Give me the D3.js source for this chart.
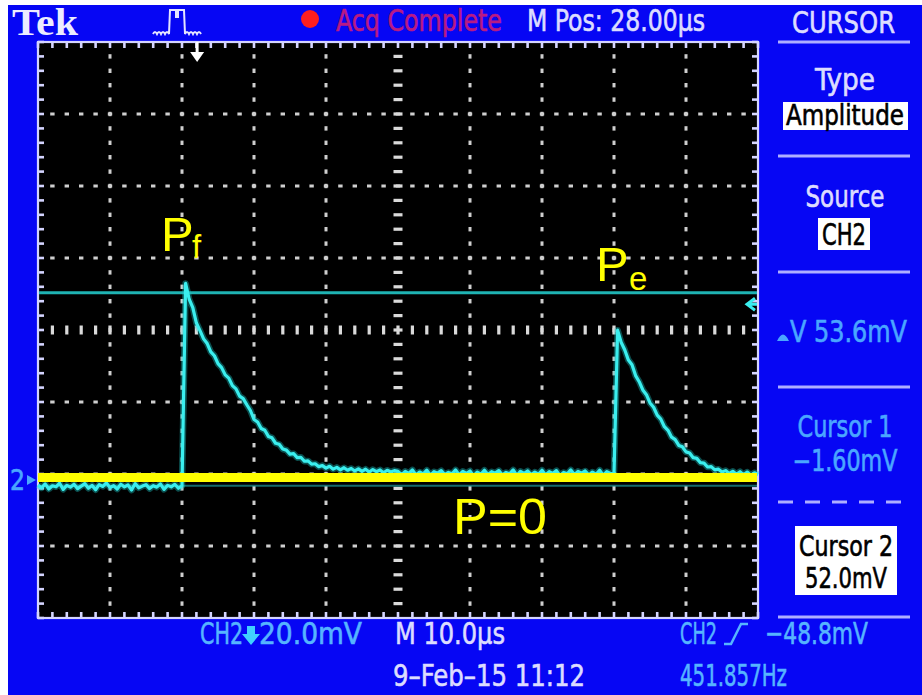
<!DOCTYPE html>
<html>
<head>
<meta charset="utf-8">
<script src="https://cdn.jsdelivr.net/npm/d3@7"></script>
<style>
  html, body { margin: 0; padding: 0; background: #ffffff; }
  svg { display: block; }
</style>
</head>
<body>
<svg id="scope" width="922" height="695"></svg>
<script>
// ---- Acquisition settings ----
const SAMPLE_US = 0.5;            // sample interval of the stored trace
const TIME_PER_DIV_US = 10;       // M 10.0us
const H_DIVS = 10;
const VOLTS_PER_DIV_MV = 20;      // CH2 20.0mV
const V_DIVS = 8;
const CH2_POSITION_DIV = -2.083;  // ground marker offset from screen centre
const TRIGGER_TIME_US = 22.1;     // trigger position arrow along the top
const TRIGGER_MARK_MV = 48.8;     // level arrow on the right edge

// ---- Cursors (amplitude) ----
const cursorLevelsMv = [-1.6, 52.0];
// Hand-drawn reference line marking P = 0
const pZeroLevelMv = 0.7;

// ---- CH2 samples in mV, one every SAMPLE_US starting at t = 0 ----
const preTrigger = [ // t = 0 .. 20 us
  -1.4, -2.2, -1.1, -2.5, -1.6, -1.9, -0.9, -2.6, -1.5, -2.0,
  -1.2, -2.4, -1.7, -1.0, -2.3, -1.5, -2.7, -1.3, -1.8, -0.8,
  -2.1, -1.6, -2.5, -1.2, -1.9, -1.4, -2.8, -1.0, -2.2, -1.7,
  -1.3, -2.4, -1.6, -2.0, -1.1, -2.6, -1.5, -1.9, -1.2, -2.3,
  -1.6
];
const pulseF = [ // t = 20.5 .. 49.5 us
  54.6, 50.2, 47.9, 43.6, 41.5, 39.2, 37.9, 35.6, 34.5, 32.3,
  31.2, 29.2, 28.3, 26.2, 25.3, 23.3, 22.6, 20.9, 19.3, 16.8,
  16.1, 14.3, 13.8, 12.1, 11.7, 10.2, 9.9, 8.6, 8.3, 7.2,
  7.3, 6.2, 6.3, 5.2, 5.3, 4.4, 4.5, 3.7, 4.0, 3.3,
  3.8, 3.0, 3.5, 2.8, 3.4, 2.7, 3.2, 2.5, 3.1, 2.4,
  3.0, 2.2, 2.9, 2.3, 2.8, 2.0, 2.7, 2.2, 2.6
];
const betweenPulses = [ // t = 50 .. 80 us
  2.4, 1.5, 2.4, 1.8, 2.8, 1.4, 2.2, 1.7, 2.7, 1.3,
  2.3, 1.9, 2.6, 1.5, 2.1, 1.7, 2.8, 1.4, 2.4, 1.8,
  2.5, 1.2, 2.2, 1.6, 2.7, 1.5, 2.3, 1.9, 2.6, 1.4,
  2.1, 1.7, 2.8, 1.3, 2.4, 1.8, 2.5, 1.5, 2.2, 1.6,
  2.7, 1.4, 2.3, 1.8, 2.6, 1.2, 2.1, 1.7, 2.8, 1.5,
  2.4, 1.9, 2.5, 1.4, 2.2, 1.6, 2.7, 1.3, 2.3, 1.8,
  1.8
];
const pulseE = [ // t = 80.5 .. 100 us
  41.6, 38.2, 36.1, 33.3, 32.0, 29.0, 27.3, 25.0, 23.7, 21.4,
  20.2, 18.0, 16.9, 14.8, 13.8, 11.9, 11.2, 9.6, 9.2, 7.8,
  7.5, 6.2, 6.0, 4.8, 4.7, 3.6, 3.7, 2.8, 3.0, 2.2,
  2.6, 1.8, 2.4, 1.6, 2.3, 1.4, 2.2, 1.3, 2.0, 1.5
];
const ch2Trace = [...preTrigger, ...pulseF, ...betweenPulses, ...pulseE];

// ---- Screen readouts ----
const statusText = "Acq Complete";
const positionText = "M Pos: 28.00\u00b5s";
const menuTitle = "CURSOR";
const typeLabel = "Type", typeValue = "Amplitude";
const sourceLabel = "Source", sourceValue = "CH2";
const deltaText = "V 53.6mV";
const cursor1Label = "Cursor 1", cursor1Value = "\u22121.60mV";
const cursor2Label = "Cursor 2", cursor2Value = "52.0mV";
const chScaleText = ["CH2", "20.0mV"];
const timebaseText = "M 10.0\u00b5s";
const triggerText = ["CH2", "\u221248.8mV"];
const dateText = "9\u2013Feb\u201315 11:12";
const freqText = "451.857Hz";
const peakLabels = [{ main: "P", sub: "f" }, { main: "P", sub: "e" }];
const zeroLabel = "P=0";

// ---- Drawing ----
const svg = d3.select("#scope");
const NARROW = "'Liberation Sans Narrow','DejaVu Sans Condensed','Arial Narrow',sans-serif";
const SANS = "'Liberation Sans',Arial,sans-serif";
const BLUE_BG = "#0606f4";
const LAVENDER = "#dcdcff";
const READOUT_BLUE = "#4aa6ff";
const TRACE = "#3aeeee";
const CURSOR = "#1fb3b3";
const YELLOW = "#ffff00";

const plot = { left: 38, top: 42, right: 758, bottom: 618 };

const x = d3.scaleLinear()
  .domain([0, H_DIVS * TIME_PER_DIV_US])
  .range([plot.left, plot.right]);
const centerMv = -CH2_POSITION_DIV * VOLTS_PER_DIV_MV;
const y = d3.scaleLinear()
  .domain([centerMv - V_DIVS / 2 * VOLTS_PER_DIV_MV, centerMv + V_DIVS / 2 * VOLTS_PER_DIV_MV])
  .range([plot.bottom, plot.top]);

// frame: white edge, blue bezel, black screen
svg.append("rect").attr("width", 922).attr("height", 695).attr("fill", "#ffffff");
svg.append("rect").attr("x", 8).attr("y", 5).attr("width", 914).attr("height", 690).attr("fill", BLUE_BG);
svg.append("rect")
  .attr("x", plot.left).attr("y", plot.top)
  .attr("width", plot.right - plot.left).attr("height", plot.bottom - plot.top)
  .attr("fill", "#000000");

// screen lettering is a narrow, fairly heavy face: thicken with a thin outline
function txt(str, px, py, o) {
  const t = svg.append("text")
    .attr("x", px).attr("y", py)
    .attr("font-family", o.family || NARROW)
    .attr("font-size", o.size)
    .attr("font-weight", o.weight || "normal")
    .attr("fill", o.fill)
    .text(str);
  if (!o.family) t.attr("stroke", o.fill).attr("stroke-width", 0.6);
  if (o.len) t.attr("textLength", o.len).attr("lengthAdjust", "spacingAndGlyphs");
  return t;
}
function centred(str, cx, py, o) { return txt(str, cx - o.len / 2, py, o); }

// ---- graticule ----
const grid = svg.append("g");
const minorT = d3.range(0, H_DIVS * TIME_PER_DIV_US + 0.001, TIME_PER_DIV_US / 5);
const minorV = d3.range(-V_DIVS / 2, V_DIVS / 2 + 0.001, 0.2).map(d => centerMv + d * VOLTS_PER_DIV_MV);
const majorT = d3.range(1, H_DIVS).map(i => i * TIME_PER_DIV_US);
const majorV = d3.range(-V_DIVS / 2 + 1, V_DIVS / 2).map(d => centerMv + d * VOLTS_PER_DIV_MV);
const centreT = H_DIVS / 2 * TIME_PER_DIV_US;
const DOT = "#cfcfcf";

// dotted vertical division lines
majorT.filter(t => t !== centreT).forEach(t => {
  grid.selectAll(null).data(minorV.slice(1, -1)).enter().append("rect")
    .attr("x", x(t) - 1.5).attr("y", d => y(d) - 2.2)
    .attr("width", 3).attr("height", 4.4).attr("fill", DOT);
});
// dotted horizontal division lines
majorV.filter(v => Math.abs(v - centerMv) > 0.01).forEach(v => {
  grid.selectAll(null).data(minorT.slice(1, -1)).enter().append("rect")
    .attr("x", d => x(d) - 2.2).attr("y", y(v) - 1.5)
    .attr("width", 4.4).attr("height", 3).attr("fill", DOT);
});
// centre crosshair with minor dashes
grid.selectAll(null).data(minorT.slice(1, -1)).enter().append("rect")
  .attr("x", d => x(d) - 1.6).attr("y", y(centerMv) - 4.5)
  .attr("width", 3.2).attr("height", 9).attr("fill", "#dadada");
grid.selectAll(null).data(minorV.slice(1, -1)).enter().append("rect")
  .attr("x", x(centreT) - 4.5).attr("y", d => y(d) - 1.6)
  .attr("width", 9).attr("height", 3.2).attr("fill", "#dadada");
// border ticks
const BORDER = "#d4d4ff";
grid.selectAll(null).data(minorT).enter().append("line")
  .attr("x1", d => x(d)).attr("x2", d => x(d))
  .attr("y1", plot.top).attr("y2", plot.top + 6)
  .attr("stroke", BORDER).attr("stroke-width", 2.6);
grid.selectAll(null).data(minorT).enter().append("line")
  .attr("x1", d => x(d)).attr("x2", d => x(d))
  .attr("y1", plot.bottom - 6).attr("y2", plot.bottom)
  .attr("stroke", BORDER).attr("stroke-width", 2.6);
grid.selectAll(null).data(minorV).enter().append("line")
  .attr("x1", plot.left).attr("x2", plot.left + 6)
  .attr("y1", d => y(d)).attr("y2", d => y(d))
  .attr("stroke", BORDER).attr("stroke-width", 2.6);
grid.selectAll(null).data(minorV).enter().append("line")
  .attr("x1", plot.right - 6).attr("x2", plot.right)
  .attr("y1", d => y(d)).attr("y2", d => y(d))
  .attr("stroke", BORDER).attr("stroke-width", 2.6);
grid.append("rect")
  .attr("x", plot.left).attr("y", plot.top)
  .attr("width", plot.right - plot.left).attr("height", plot.bottom - plot.top)
  .attr("fill", "none").attr("stroke", BORDER).attr("stroke-width", 2.2);

// ---- cursors ----
svg.selectAll(".cursor").data(cursorLevelsMv).enter().append("line")
  .attr("class", "cursor")
  .attr("x1", plot.left + 1).attr("x2", plot.right - 1)
  .attr("y1", d => y(d)).attr("y2", d => y(d))
  .attr("stroke", CURSOR)
  .attr("stroke-width", (d, i) => i === 0 ? 2 : 3)
  .attr("stroke-opacity", (d, i) => i === 0 ? 0.6 : 1);

// ---- CH2 trace ----
const traceLine = d3.line()
  .x((d, i) => x(i * SAMPLE_US))
  .y(d => y(d));
svg.append("path").datum(ch2Trace)
  .attr("d", traceLine).attr("fill", "none")
  .attr("stroke", "#1cc4c4").attr("stroke-opacity", 0.4)
  .attr("stroke-width", 6.5).attr("stroke-linejoin", "round");
svg.append("path").datum(ch2Trace)
  .attr("d", traceLine).attr("fill", "none")
  .attr("stroke", TRACE).attr("stroke-width", 3.2)
  .attr("stroke-linejoin", "round");

// trigger position arrow (top)
const tx = x(TRIGGER_TIME_US);
svg.append("line").attr("x1", tx).attr("x2", tx)
  .attr("y1", plot.top).attr("y2", plot.top + 12)
  .attr("stroke", "#ffffff").attr("stroke-width", 3);
svg.append("path")
  .attr("d", `M${tx - 7},${plot.top + 10}L${tx + 7},${plot.top + 10}L${tx},${plot.top + 20}Z`)
  .attr("fill", "#ffffff");

// trigger level arrow (right edge)
const ty = y(TRIGGER_MARK_MV);
svg.append("path")
  .attr("d", `M${plot.right - 3},${ty - 6}L${plot.right - 11},${ty}L${plot.right - 3},${ty + 6}M${plot.right - 11},${ty}H${plot.right - 1}`)
  .attr("fill", "none").attr("stroke", TRACE).attr("stroke-width", 3);

// ground marker for CH2
const gy = y(0);
txt("2", 10, gy + 10, { size: 28, fill: READOUT_BLUE, len: 15 });
svg.append("path")
  .attr("d", `M27,${gy - 5}L36,${gy}L27,${gy + 5}Z`)
  .attr("fill", READOUT_BLUE);

// ---- P = 0 reference line and annotations ----
svg.append("line")
  .attr("x1", plot.left).attr("x2", plot.right - 1)
  .attr("y1", y(pZeroLevelMv)).attr("y2", y(pZeroLevelMv))
  .attr("stroke", YELLOW).attr("stroke-width", 9);

const peakPos = [{ x: 161, y: 251, sx: 192, sy: 258 }, { x: 596, y: 281, sx: 629, sy: 290 }];
peakLabels.forEach((p, i) => {
  txt(p.main, peakPos[i].x, peakPos[i].y, { family: SANS, size: 49, fill: YELLOW });
  txt(p.sub, peakPos[i].sx, peakPos[i].sy, { family: SANS, size: 33, fill: YELLOW });
});
txt(zeroLabel, 453, 534, { family: SANS, size: 50, fill: YELLOW, len: 94 });

// ---- top status bar ----
txt("Tek", 12, 35, { family: "'Liberation Serif','DejaVu Serif',serif", size: 37, weight: "bold", fill: "#ececff", len: 66 });
svg.append("path")
  .attr("d", "M153,34q2,-4 4,0q2,-4 4,0q2,-4 4,0q2,-4 4,0L170,10H176V17H178V10H184L185,34q2,-4 4,0q2,-4 4,0q2,-4 4,0q2,-4 4,0")
  .attr("fill", "none").attr("stroke", "#e4e4ff").attr("stroke-width", 2);
svg.append("circle").attr("cx", 310).attr("cy", 19).attr("r", 9).attr("fill", "#ff1e1e");
txt(statusText, 336, 31, { size: 30, fill: "#b81a84", len: 166 });
txt(positionText, 527, 31, { size: 30, fill: LAVENDER, len: 178 });

// ---- side menu ----
const SEP = "#aeaeff";
[42, 156, 272, 387, 617].forEach(sy => {
  svg.append("line").attr("x1", 778).attr("x2", 910).attr("y1", sy).attr("y2", sy)
    .attr("stroke", SEP).attr("stroke-width", 3);
});
svg.append("line").attr("x1", 778).attr("x2", 910).attr("y1", 502).attr("y2", 502)
  .attr("stroke", SEP).attr("stroke-width", 3).attr("stroke-dasharray", "15,12");

txt(menuTitle, 792, 33, { size: 31, fill: LAVENDER, len: 103 });
centred(typeLabel, 845, 90, { size: 30, fill: LAVENDER, len: 60 });
svg.append("rect").attr("x", 783).attr("y", 102).attr("width", 125).attr("height", 28).attr("fill", "#ffffff");
centred(typeValue, 845, 125, { size: 28, fill: "#000000", len: 118 });
centred(sourceLabel, 845, 207, { size: 30, fill: LAVENDER, len: 79 });
svg.append("rect").attr("x", 818).attr("y", 218).attr("width", 52).attr("height", 32).attr("fill", "#ffffff");
centred(sourceValue, 844, 245, { size: 30, fill: "#000000", len: 44 });

svg.append("path").attr("d", "M777,341Q783,328 789,341Z").attr("fill", READOUT_BLUE);
txt(deltaText, 790, 342, { size: 30, fill: READOUT_BLUE, len: 117 });
centred(cursor1Label, 845, 437, { size: 30, fill: READOUT_BLUE, len: 95 });
centred(cursor1Value, 845, 471, { size: 30, fill: READOUT_BLUE, len: 105 });
svg.append("rect").attr("x", 795).attr("y", 526).attr("width", 102).attr("height", 69).attr("fill", "#ffffff");
centred(cursor2Label, 846, 556, { size: 29, fill: "#000000", len: 94 });
centred(cursor2Value, 846, 588, { size: 29, fill: "#000000", len: 82 });

// ---- bottom readouts ----
const BOTTOM_BLUE = "#56b4ff";
txt(chScaleText[0], 200, 644, { size: 31, fill: BOTTOM_BLUE, len: 43 });
svg.append("path")
  .attr("d", "M247,626H255V634H260L251,645L242,634H247Z")
  .attr("fill", "#40d0ff");
txt(chScaleText[1], 259, 644, { size: 31, fill: BOTTOM_BLUE, len: 103 });
txt(timebaseText, 395, 644, { size: 31, fill: LAVENDER, len: 110 });
txt(triggerText[0], 680, 644, { size: 31, fill: BOTTOM_BLUE, len: 37 });
svg.append("path")
  .attr("d", "M724,644H731L741,624H748")
  .attr("fill", "none").attr("stroke", BOTTOM_BLUE).attr("stroke-width", 2.5);
txt(triggerText[1], 765, 644, { size: 31, fill: BOTTOM_BLUE, len: 103 });
txt(dateText, 393, 686, { size: 31, fill: LAVENDER, len: 192 });
txt(freqText, 680, 686, { size: 31, fill: BOTTOM_BLUE, len: 107 });
</script>
</body>
</html>
